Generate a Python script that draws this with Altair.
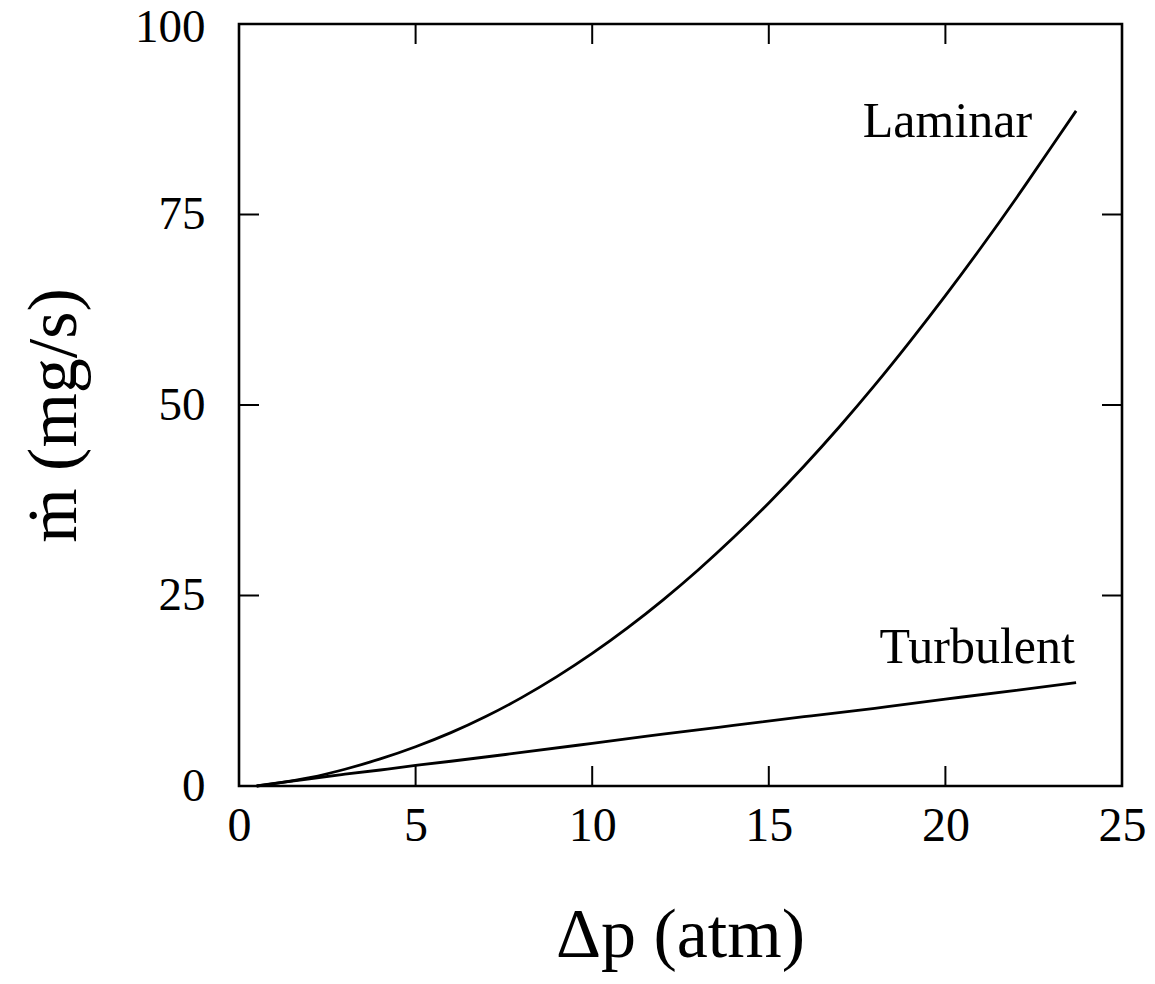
import altair as alt
import pandas as pd

# ---- data ----
lam_x = [0.5, 1, 2, 3, 4, 5, 6, 7, 8, 9, 10, 11, 12, 13, 14, 15, 16, 17, 18, 19, 20, 21, 22, 23, 23.7]
lam_y = [0.0, 0.3, 1.1, 2.2, 3.55, 5.15, 7.0, 9.15, 11.6, 14.35, 17.4, 20.75, 24.4, 28.35, 32.6, 37.15,
         42.0, 47.15, 52.6, 58.35, 64.35, 70.6, 77.1, 83.85, 88.6]
tur_x = [0.5, 1, 2, 3, 4, 5, 6, 8, 10, 12, 14, 16, 18, 20, 22, 23.7]
tur_y = [0.0, 0.35, 0.95, 1.55, 2.1, 2.7, 3.25, 4.4, 5.6, 6.8, 7.95, 9.1, 10.2, 11.4, 12.55, 13.56]

x_ticks = [0, 5, 10, 15, 20, 25]
y_ticks = [0, 25, 50, 75, 100]
inner_x_ticks = [5, 10, 15, 20]
inner_y_ticks = [25, 50, 75]

label_text = ["Laminar", "Turbulent"]
label_x = [20.06, 20.9]
label_y = [87.1, 18.1]

x_title = "Δp (atm)"
y_title = "ṁ (mg/s)"

# ---- layout / style ----
W, H = 883, 762
FONT = "Liberation Serif"
TICK_LEN = 20

curves = pd.DataFrame({
    "x": lam_x + tur_x,
    "y": lam_y + tur_y,
    "series": ["Laminar"] * len(lam_x) + ["Turbulent"] * len(tur_x),
})
labels = pd.DataFrame({"x": label_x, "y": label_y, "text": label_text})
xt = pd.DataFrame({"x": inner_x_ticks})
yt = pd.DataFrame({"y": inner_y_ticks})

xs = alt.Scale(domain=[0, 25], nice=False, zero=False)
ys = alt.Scale(domain=[0, 100], nice=False, zero=False)

x_axis = alt.Axis(values=x_ticks, title=x_title, ticks=False, tickSize=0, domain=False, grid=False,
                  labelFont=FONT, labelFontSize=48, labelColor="black", labelPadding=40,
                  labelBaseline="middle", labelFlush=False,
                  titleFont=FONT, titleFontSize=70, titleFontWeight="normal", titleColor="black",
                  titleX=441, titleY=149, titleBaseline="middle", titleAlign="center")
y_axis = alt.Axis(values=y_ticks, title=y_title, ticks=False, tickSize=0, domain=False, grid=False,
                  labelFont=FONT, labelFontSize=47, labelColor="black", labelPadding=34,
                  labelBaseline="middle", labelFlush=False,
                  labelOffset={"condition": {"test": "datum.value === 100", "value": 3}, "value": 0},
                  titleFont=FONT, titleFontSize=70, titleFontWeight="normal", titleColor="black",
                  titleX=-185, titleY=391, titleAngle=-90, titleBaseline="middle", titleAlign="center")

lines = alt.Chart(curves).mark_line(color="black", strokeWidth=2.8, interpolate="natural").encode(
    x=alt.X("x:Q", scale=xs, axis=x_axis),
    y=alt.Y("y:Q", scale=ys, axis=y_axis),
    detail="series:N",
)

text = alt.Chart(labels).mark_text(font=FONT, fontSize=50, color="black", align="center",
                                   baseline="middle").encode(
    x=alt.X("x:Q", scale=xs),
    y=alt.Y("y:Q", scale=ys),
    text="text:N",
)

bottom_ticks = alt.Chart(xt).mark_rule(color="black", strokeWidth=2).encode(
    x=alt.X("x:Q", scale=xs), y=alt.value(H), y2=alt.value(H - TICK_LEN))
top_ticks = alt.Chart(xt).mark_rule(color="black", strokeWidth=2).encode(
    x=alt.X("x:Q", scale=xs), y=alt.value(0), y2=alt.value(TICK_LEN))
left_ticks = alt.Chart(yt).mark_rule(color="black", strokeWidth=2).encode(
    y=alt.Y("y:Q", scale=ys), x=alt.value(0), x2=alt.value(TICK_LEN))
right_ticks = alt.Chart(yt).mark_rule(color="black", strokeWidth=2).encode(
    y=alt.Y("y:Q", scale=ys), x=alt.value(W), x2=alt.value(W - TICK_LEN))

chart = alt.layer(lines, text, bottom_ticks, top_ticks, left_ticks, right_ticks).properties(
    width=W, height=H,
    padding={"left": 231, "top": 16, "right": 25, "bottom": 190},
    autosize=alt.AutoSizeParams(type="none"),
    background="white",
).configure_view(stroke="black", strokeWidth=2.6)

chart.save("out.html", embed_options={"renderer": "svg", "actions": False})
